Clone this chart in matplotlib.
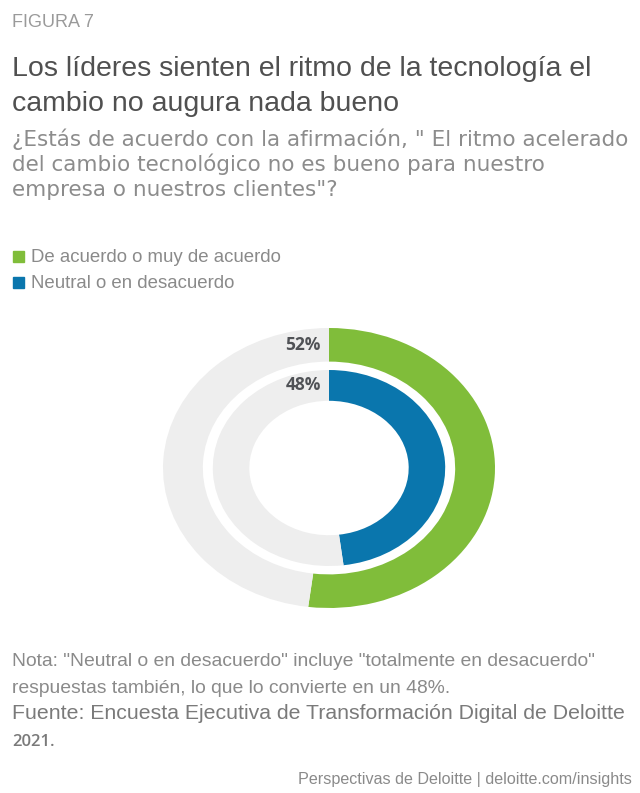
"""
Donut chart: share of executives who think the pace of technological
change is not good for their company or customers.
"""

import matplotlib.pyplot as plt
from matplotlib.patches import Rectangle

# Survey answers (percent)
categories = ["De acuerdo o muy de acuerdo", "Neutral o en desacuerdo"]
shares = [52, 48]
colors = ["#80bd3a", "#0a76ad"]
track_color = "#eeeeee"

FIG_W, FIG_H = 640, 793
SANS = ["Liberation Sans", "DejaVu Sans"]
WIDE = ["DejaVu Sans"]
OPEN = ["Open Sans", "DejaVu Sans"]


def px(x, y):
    """Pixel position (from top-left) to figure fraction."""
    return x / FIG_W, 1 - y / FIG_H


fig = plt.figure(figsize=(FIG_W / 100, FIG_H / 100), dpi=100)
fig.patch.set_facecolor("white")

# Header
fig.text(*px(12, 27), "FIGURA 7", family=SANS, fontsize=13, color="#9a9a9a")
fig.text(*px(12, 76), "Los líderes sienten el ritmo de la tecnología el",
         family=SANS, fontsize=20.5, color="#505050")
fig.text(*px(12, 111), "cambio no augura nada bueno",
         family=SANS, fontsize=20.5, color="#505050")
subtitle = [
    "¿Estás de acuerdo con la afirmación, \" El ritmo acelerado",
    "del cambio tecnológico no es bueno para nuestro",
    "empresa o nuestros clientes\"?",
]
for i, line in enumerate(subtitle):
    fig.text(*px(12, 146 + i * 25), line, family=WIDE, fontsize=15.5,
             color="#8c8c8c")

# Legend
for i, (label, color) in enumerate(zip(categories, colors)):
    y = 262 + i * 26
    fig.patches.append(Rectangle(px(13, y), 11 / FIG_W, 11 / FIG_H,
                                 transform=fig.transFigure, color=color))
    fig.text(*px(31, y), label, family=SANS, fontsize=13.4, color="#8a8a8a")

# Donut: outer ring = agree, inner ring = neutral/disagree
ax = fig.add_axes([163 / FIG_W, 185 / FIG_H, 332 / FIG_W, 280 / FIG_H])
rings = [(1.0, 0.24, 0), (0.70, 0.22, 1)]
for radius, width, idx in rings:
    value = shares[idx]
    ax.pie([value, 100 - value], radius=radius, startangle=90,
           counterclock=False, colors=[colors[idx], track_color],
           wedgeprops=dict(width=width, linewidth=0))
    ax.text(-0.05, radius - width / 2, f"{value}%", ha="right", va="center",
            family=OPEN, fontweight="bold", fontsize=12.5, color="#505256")
ax.set_aspect("auto")
ax.set_xlim(-1, 1)
ax.set_ylim(-1, 1)
ax.axis("off")

# Notes and source
fig.text(*px(12, 666), "Nota: \"Neutral o en desacuerdo\" incluye \"totalmente en desacuerdo\"",
         family=SANS, fontsize=13.9, color="#8a8a8a")
fig.text(*px(12, 693), "respuestas también, lo que lo convierte en un 48%.",
         family=SANS, fontsize=13.9, color="#8a8a8a")
fig.text(*px(12, 719), "Fuente: Encuesta Ejecutiva de Transformación Digital de Deloitte",
         family=SANS, fontsize=15.3, color="#7a7a7a")
fig.text(*px(12, 746), "2021.", family=OPEN, fontweight="semibold",
         fontsize=12, color="#7a7a7a")
fig.text(*px(632, 784), "Perspectivas de Deloitte | deloitte.com/insights",
         family=SANS, fontsize=11.6, color="#8a8a8a", ha="right")

fig.savefig("out.png", dpi=100, facecolor="white")
